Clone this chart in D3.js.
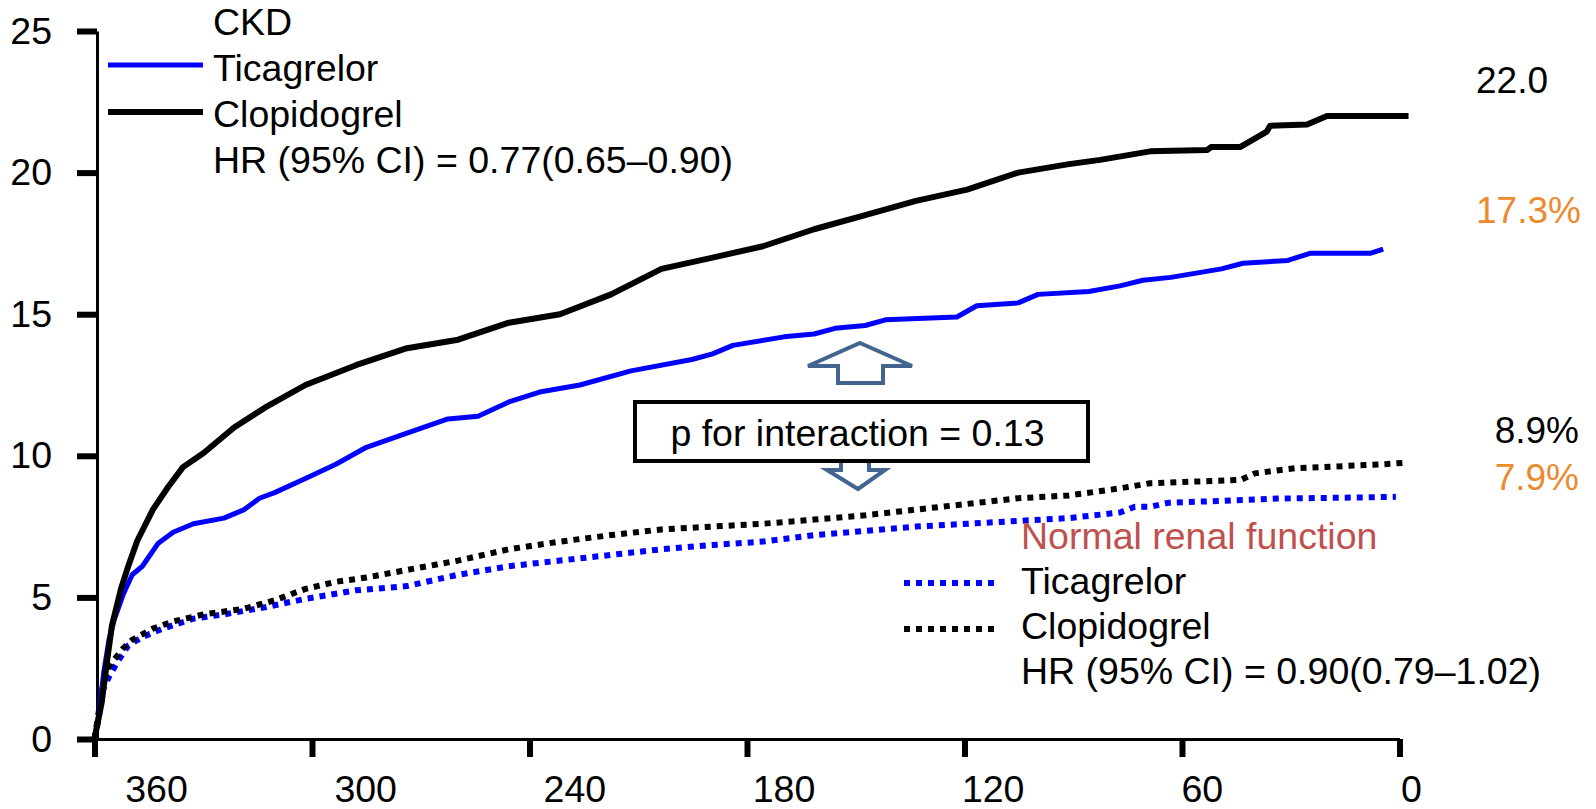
<!DOCTYPE html>
<html>
<head>
<meta charset="utf-8">
<script src="https://cdn.jsdelivr.net/npm/d3@7"></script>
<style>
  html, body { margin: 0; padding: 0; background: #fff; }
  svg { display: block; }
  text { font-family: "Liberation Sans", Arial, Helvetica, sans-serif; }
</style>
</head>
<body>
<svg id="chart" width="1596" height="809"></svg>
<script>
// Axis ticks
const xTickValues = [360, 300, 240, 180, 120, 60, 0];
const yTickValues = [0, 5, 10, 15, 20, 25];

// Cumulative event rate (%) by day, [day, value]
const ckdTicagrelor = [
  [360,0],[358.8,0.9],[357.4,2.4],[356,3.5],[354.6,4.2],[352.1,5.1],[349.6,5.8],[346.8,6.1],
  [342.5,6.9],[338.3,7.3],[332.7,7.6],[324.3,7.8],[318.7,8.1],[314.5,8.5],[310.3,8.7],
  [301.8,9.2],[293.4,9.7],[285,10.3],[273.8,10.8],[262.5,11.3],[254.2,11.4],[245.7,11.9],
  [237.2,12.25],[226.1,12.5],[212,13.0],[195.2,13.4],[189.5,13.6],[183.9,13.9],[169.8,14.2],
  [161.5,14.3],[155.7,14.5],[147.4,14.6],[141.8,14.8],[122.1,14.9],[116.6,15.3],[105.2,15.4],
  [99.7,15.7],[85.7,15.8],[77.1,16.0],[70.8,16.2],[63.1,16.3],[49.1,16.6],[43.2,16.8],
  [30.8,16.9],[24.7,17.15],[8.1,17.15],[4.5,17.3]
];
const ckdClopidogrel = [
  [360,0],[358,1.3],[356.6,2.7],[355.2,4.0],[352.7,5.3],[350.7,6.1],[348.2,7.0],[343.9,8.1],
  [339.7,8.9],[335.6,9.6],[329.9,10.1],[321.5,11.0],[313,11.7],[301.8,12.5],[287.9,13.2],
  [273.8,13.8],[259.7,14.1],[245.7,14.7],[231.6,15.0],[217.5,15.7],[203.6,16.6],[189.5,17.0],
  [175.6,17.4],[161.5,18.0],[147.4,18.5],[133.4,19.0],[119.3,19.4],[105.2,20.0],[91.2,20.3],
  [82.6,20.45],[68.8,20.75],[53,20.8],[52,20.9],[44,20.9],[36.6,21.45],[35.7,21.65],
  [25.5,21.7],[20,22.0],[-2.5,22.0]
];
const normalTicagrelor = [
  [360,0],[358.8,0.75],[358,1.65],[356,2.2],[353.8,2.7],[350.7,3.3],[346.8,3.6],[341.1,3.9],
  [332.7,4.25],[324.3,4.4],[313,4.65],[301.8,4.95],[287.9,5.25],[273.8,5.4],[259.7,5.8],
  [245.7,6.1],[231.6,6.3],[217.5,6.5],[203.6,6.7],[189.5,6.85],[175.6,6.97],[161.5,7.2],
  [147.4,7.35],[133.4,7.5],[119.3,7.6],[105.2,7.7],[91.2,7.8],[77.1,8.0],[73,8.2],[68.8,8.2],
  [63.8,8.34],[42.6,8.44],[33.8,8.49],[10.9,8.53],[1,8.55]
];
const normalClopidogrel = [
  [360,0],[358,1.65],[356.6,2.45],[355.2,2.7],[352.1,3.2],[349.6,3.5],[343.9,3.9],[338.3,4.15],
  [329.9,4.4],[318.7,4.6],[310.3,4.9],[301.8,5.3],[293.4,5.55],[285,5.7],[273.8,5.97],
  [259.7,6.3],[245.7,6.7],[231.6,6.97],[217.5,7.2],[203.6,7.4],[189.5,7.5],[175.6,7.6],
  [161.5,7.75],[147.4,7.9],[133.4,8.1],[119.3,8.3],[105.2,8.5],[91.2,8.6],[77.1,8.85],
  [68.8,9.03],[43.8,9.15],[39.9,9.38],[28.8,9.56],[4.5,9.7],[-1,9.75]
];

// Legend / annotation text
const ckdLegend = ["CKD", "Ticagrelor", "Clopidogrel", "HR (95% CI) = 0.77(0.65\u20130.90)"];
const normalLegend = ["Normal renal function", "Ticagrelor", "Clopidogrel", "HR (95% CI) = 0.90(0.79\u20131.02)"];
const endLabels = ["22.0", "17.3%", "8.9%", "7.9%"];
const interactionText = "p for interaction = 0.13";

const BLUE = "#0000ff", BLACK = "#000000", ORANGE = "#ec8a2e", RED = "#c0504d", ARROW = "#41658f";
const FS = 37.5;

const svg = d3.select("#chart");
svg.append("rect").attr("width", 1596).attr("height", 809).attr("fill", "#fff");

const x = d3.scaleLinear().domain([360, 0]).range([94.5, 1399.5]);
const y = d3.scaleLinear().domain([0, 25]).range([739, 31]);
// tick labels sit on their own, slightly shifted spacing
const labelX = d3.scaleLinear().domain([360, 0]).range([156, 1411]);

// X axis
const gx = svg.append("g").attr("transform", `translate(0,${y(0)})`)
  .call(d3.axisBottom(x).tickValues(xTickValues).tickSize(18).tickSizeOuter(0).tickPadding(18).tickFormat(d3.format("d")));
gx.select(".domain").attr("stroke", BLACK).attr("stroke-width", 3);
gx.selectAll(".tick line").attr("stroke", BLACK).attr("stroke-width", 6);
gx.selectAll(".tick text").attr("font-size", FS).attr("fill", BLACK)
  .attr("font-family", "Liberation Sans, Arial, sans-serif")
  .attr("dx", d => labelX(d) - x(d));

// Y axis
const gy = svg.append("g").attr("transform", `translate(${x(360) + 2.5},0)`)
  .call(d3.axisLeft(y).tickValues(yTickValues).tickSize(20).tickSizeOuter(0).tickPadding(25));
gy.select(".domain").attr("stroke", BLACK).attr("stroke-width", 3);
gy.selectAll(".tick line").attr("stroke", BLACK).attr("stroke-width", 6);
gy.selectAll(".tick text").attr("font-size", FS).attr("fill", BLACK)
  .attr("font-family", "Liberation Sans, Arial, sans-serif");

// Curves
const line = d3.line().x(d => x(d[0])).y(d => y(d[1]));
const series = [
  { data: normalTicagrelor, color: BLUE, width: 6, dash: "6,6" },
  { data: normalClopidogrel, color: BLACK, width: 6, dash: "6,6" },
  { data: ckdTicagrelor, color: BLUE, width: 5, dash: null },
  { data: ckdClopidogrel, color: BLACK, width: 6, dash: null }
];
svg.append("g").selectAll("path").data(series).join("path")
  .attr("d", d => line(d.data))
  .attr("fill", "none")
  .attr("stroke", d => d.color)
  .attr("stroke-width", d => d.width)
  .attr("stroke-linejoin", "round")
  .attr("stroke-dasharray", d => d.dash);

// CKD legend
const legA = svg.append("g");
legA.selectAll("text").data(ckdLegend).join("text")
  .attr("x", 213).attr("y", (d, i) => 35 + i * 46)
  .attr("font-size", FS).attr("fill", BLACK).text(d => d);
legA.append("line").attr("x1", 108).attr("x2", 203).attr("y1", 65).attr("y2", 65)
  .attr("stroke", BLUE).attr("stroke-width", 5);
legA.append("line").attr("x1", 108).attr("x2", 203).attr("y1", 112).attr("y2", 112)
  .attr("stroke", BLACK).attr("stroke-width", 6);

// Normal renal function legend
const legB = svg.append("g");
legB.selectAll("text").data(normalLegend).join("text")
  .attr("x", 1021).attr("y", (d, i) => 549 + i * 45)
  .attr("font-size", FS).attr("fill", (d, i) => i === 0 ? RED : BLACK).text(d => d);
legB.append("line").attr("x1", 904).attr("x2", 1000).attr("y1", 583).attr("y2", 583)
  .attr("stroke", BLUE).attr("stroke-width", 6).attr("stroke-dasharray", "6,6");
legB.append("line").attr("x1", 904).attr("x2", 1000).attr("y1", 629).attr("y2", 629)
  .attr("stroke", BLACK).attr("stroke-width", 6).attr("stroke-dasharray", "6,6");

// End-of-follow-up rates
const endPos = [
  { x: 1476, y: 93, anchor: "start", color: BLACK },
  { x: 1476, y: 223, anchor: "start", color: ORANGE },
  { x: 1579, y: 443, anchor: "end", color: BLACK },
  { x: 1579, y: 490, anchor: "end", color: ORANGE }
];
svg.append("g").selectAll("text").data(endLabels).join("text")
  .attr("x", (d, i) => endPos[i].x).attr("y", (d, i) => endPos[i].y)
  .attr("text-anchor", (d, i) => endPos[i].anchor)
  .attr("fill", (d, i) => endPos[i].color)
  .attr("font-size", 37).text(d => d);

// Interaction box with arrows
const box = { x: 635, y: 402, w: 453, h: 59 };
const cx = 860;
const ann = svg.append("g");
// up arrow
ann.append("path")
  .attr("d", `M${cx},343 L${cx + 52},366 L${cx + 23},366 L${cx + 23},383 L${cx - 22},383 L${cx - 22},366 L${cx - 52},366 Z`)
  .attr("fill", "#fff").attr("stroke", ARROW).attr("stroke-width", 4).attr("stroke-linejoin", "miter");
// down arrow
ann.append("path")
  .attr("d", `M${cx - 4 - 15},452 L${cx - 4 + 13},452 L${cx - 4 + 13},470 L${cx - 4 + 29},470 L${cx - 2},489 L${cx - 4 - 29},470 L${cx - 4 - 15},470 Z`)
  .attr("fill", "#fff").attr("stroke", ARROW).attr("stroke-width", 4);
ann.append("rect")
  .attr("x", box.x).attr("y", box.y).attr("width", box.w).attr("height", box.h)
  .attr("fill", "#fff").attr("stroke", BLACK).attr("stroke-width", 4);
ann.append("text")
  .attr("x", box.x + box.w / 2 - 4).attr("y", box.y + 44)
  .attr("text-anchor", "middle").attr("font-size", FS).attr("fill", BLACK)
  .text(interactionText);
</script>
</body>
</html>
